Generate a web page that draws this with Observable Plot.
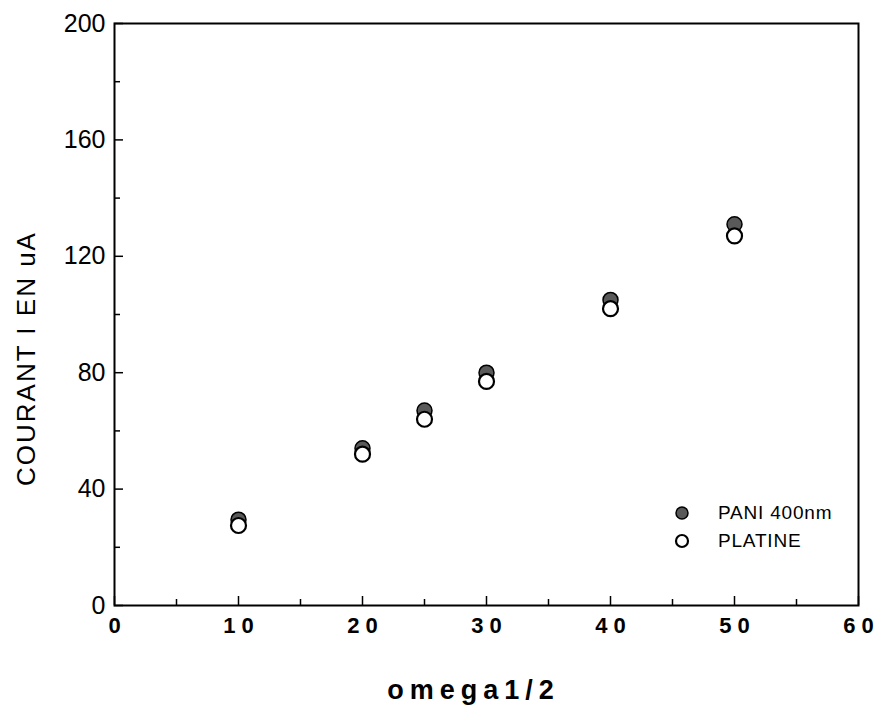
<!DOCTYPE html>
<html>
<head>
<meta charset="utf-8">
<script src="https://cdn.jsdelivr.net/npm/d3@7"></script>
<script src="https://cdn.jsdelivr.net/npm/@observablehq/plot@0.6"></script>
<style>
  html, body { margin: 0; padding: 0; background: #fff; }
  #wrap { position: relative; width: 876px; height: 713px; }
  #chart svg { font-family: "Liberation Sans", Arial, sans-serif; }
  #chart [aria-label="x-axis tick label"] text { font-weight: bold; font-size: 22px; white-space: pre; }
  #chart [aria-label="y-axis tick label"] text { font-size: 25px; }
  #chart [aria-label="x-axis label"] text { letter-spacing: 6px; font-weight: bold; font-size: 27px; }
  #chart [aria-label="y-axis label"] text { font-size: 26px; letter-spacing: 2px; }
  #legend { position: absolute; left: 674px; top: 499px; font-family: "Liberation Sans", Arial, sans-serif; font-size: 19px; letter-spacing: 0.8px; }
  #legend .row { display: flex; align-items: center; height: 28px; }
  #legend svg { margin-right: 28px; }
</style>
</head>
<body>
<div id="wrap">
  <div id="chart"></div>
  <div id="legend"></div>
</div>
<script>
// Data
const omega = [10, 20, 25, 30, 40, 50];
const pani = [29.5, 54, 67, 80, 105, 131];
const platine = [27.5, 52, 64, 77, 102, 127];
const seriesNames = ["PANI 400nm", "PLATINE"];
const xMajor = [0, 10, 20, 30, 40, 50, 60];
const xMinor = [5, 15, 25, 35, 45, 55];
const yMajor = [0, 40, 80, 120, 160, 200];
const yMinor = [20, 60, 100, 140, 180];

const W = 876, H = 713;
const mTop = 23, mBottom = 108, mLeft = 114, mRight = 18;
const innerW = W - mLeft - mRight, innerH = H - mTop - mBottom;

const paniData = omega.map((x, i) => ({x, y: pani[i]}));
const platData = omega.map((x, i) => ({x, y: platine[i]}));

const chart = Plot.plot({
  width: W,
  height: H,
  marginTop: mTop,
  marginBottom: mBottom,
  marginLeft: mLeft,
  marginRight: mRight,
  x: {domain: [0, 60]},
  y: {domain: [0, 200]},
  marks: [
    Plot.frame({stroke: "#000", strokeWidth: 2}),
    Plot.axisX({ticks: xMajor, tickSize: 0, tickPadding: 12, label: null, fill: "#000",
      tickFormat: d => String(d).split("").join(" ")}),
    Plot.axisY({ticks: yMajor, tickSize: 0, tickPadding: 9, label: null, fill: "#000"}),
    // inward ticks
    Plot.ruleX(xMajor, {x: d => d, insetTop: innerH - 9, stroke: "#000", strokeWidth: 1.5}),
    Plot.ruleX(xMinor, {x: d => d, insetTop: innerH - 6, stroke: "#000", strokeWidth: 1.5}),
    Plot.ruleY(yMajor, {y: d => d, insetRight: innerW - 9, stroke: "#000", strokeWidth: 1.5}),
    Plot.ruleY(yMinor, {y: d => d, insetRight: innerW - 6, stroke: "#000", strokeWidth: 1.5}),
    Plot.dot(paniData, {x: "x", y: "y", r: 7.5, fill: "#595959", stroke: "#000", strokeWidth: 1.5}),
    Plot.dot(platData, {x: "x", y: "y", r: 7.5, fill: "#fff", stroke: "#000", strokeWidth: 2.2}),
    // axis titles
    Plot.text(["omega1/2"], {frameAnchor: "bottom", text: d => d, dy: 85, dx: -13, textAnchor: "middle", lineAnchor: "middle", fill: "#000"}),
    Plot.text(["COURANT I EN uA"], {frameAnchor: "left", text: d => d, rotate: -90, dx: -88, dy: 44, textAnchor: "middle", lineAnchor: "middle", fill: "#000"})
  ]
});
// tag the title texts so the CSS above applies
const texts = d3.select(chart).selectAll('g[aria-label="text"]').nodes();
d3.select(texts[0]).attr("aria-label", "x-axis label");
d3.select(texts[1]).attr("aria-label", "y-axis label");
document.getElementById("chart").append(chart);

// Legend
const legend = d3.select("#legend");
const styles = [
  {fill: "#595959", sw: 1.5},
  {fill: "#fff", sw: 2.2}
];
seriesNames.forEach((name, i) => {
  const row = legend.append("div").attr("class", "row");
  const s = row.append("svg").attr("width", 16).attr("height", 16);
  s.append("circle").attr("cx", 8).attr("cy", 8).attr("r", 6)
    .attr("fill", styles[i].fill).attr("stroke", "#000").attr("stroke-width", styles[i].sw);
  row.append("span").text(name);
});
</script>
</body>
</html>
